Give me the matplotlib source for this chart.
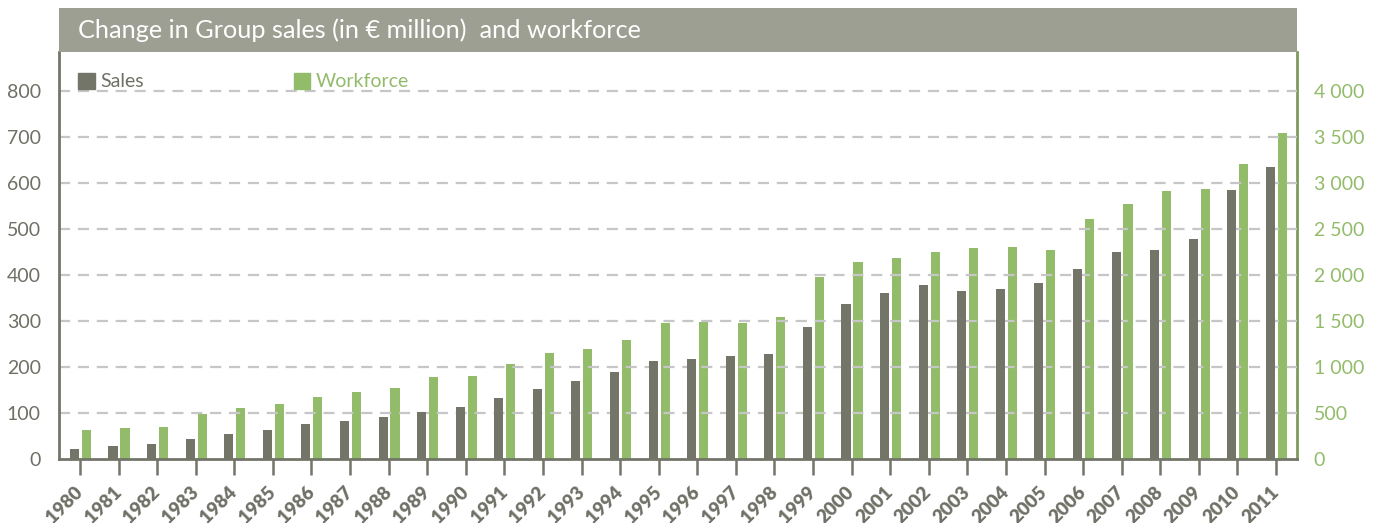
import matplotlib
matplotlib.use("Agg")
import matplotlib.pyplot as plt
from matplotlib.patches import Rectangle
import numpy as np

years = [str(y) for y in range(1980, 2012)]
sales = [22, 28, 33, 43, 54, 63, 76, 83, 91, 102, 113, 133, 152, 170, 189, 213,
         217, 224, 228, 287, 337, 361, 378, 365, 370, 383, 413, 450, 454, 478, 585, 635]
workforce = [315, 337, 348, 489, 554, 598, 674, 728, 772, 891, 902, 1033, 1152, 1196, 1293, 1478,
             1489, 1478, 1543, 1978, 2141, 2185, 2250, 2293, 2304, 2272, 2609, 2772, 2913, 2935, 3207, 3543]
left_ticks = [0, 100, 200, 300, 400, 500, 600, 700, 800]
right_ticks = [0, 500, 1000, 1500, 2000, 2500, 3000, 3500, 4000]
title = "Change in Group sales (in \u20ac million)  and workforce"
legend_labels = ["Sales", "Workforce"]

GRAY = "#737569"
GREEN = "#92bb6a"
BAND = "#9c9f91"
TXT_GRAY = "#6e7066"
SPINE_GREEN = "#7f9a5a"

W, H = 1380, 523
fig = plt.figure(figsize=(W / 100, H / 100), dpi=100)
L, R, B, T = 59 / W, 1297 / W, 1 - 459 / H, 1 - 52 / H
ax = fig.add_axes([L, B, R - L, T - B])
ax2 = ax.twinx()

x = np.arange(len(years))
bw = 0.235
ax.bar(x - 0.145, sales, width=bw, color=GRAY, zorder=3)
ax2.bar(x + 0.165, workforce, width=bw, color=GREEN, zorder=3)

ymax = (459 - 52) / 0.46
ax.set_ylim(0, ymax)
ax2.set_ylim(0, ymax * 5)
ax.set_xlim(-0.545, len(years) - 1 + 0.545)

ax.set_yticks(left_ticks)
ax.set_yticklabels([str(v) for v in left_ticks])
ax2.set_yticks(right_ticks)
ax2.set_yticklabels([f"{v:,}".replace(",", " ") for v in right_ticks])

for v in left_ticks[1:]:
    ax.axhline(v, color="#c6c6c6", lw=1.6, ls=(0, (5, 3.5)), zorder=1)

ax.set_xticks(x)
ax.set_xticklabels(years, rotation=45, ha="right", va="center", rotation_mode="anchor",
                   fontweight="heavy", fontsize=13.5, color=TXT_GRAY, family="Lato")
ax.tick_params(axis="x", direction="out", length=11.5, width=1.8, color=GRAY, pad=10)
ax.tick_params(axis="y", length=0, pad=13, labelsize=14, labelcolor=TXT_GRAY)
ax2.tick_params(axis="y", length=0, pad=12, labelsize=14, labelcolor=GREEN)
for lab in ax.get_yticklabels() + ax2.get_yticklabels():
    lab.set_family("Lato")

for a in (ax, ax2):
    a.spines["top"].set_visible(False)
ax.spines["left"].set_color(GRAY)
ax.spines["left"].set_linewidth(2)
ax.spines["bottom"].set_color(GRAY)
ax.spines["bottom"].set_linewidth(2)
ax.spines["right"].set_visible(False)
ax2.spines["left"].set_visible(False)
ax2.spines["bottom"].set_visible(False)
ax2.spines["right"].set_color(SPINE_GREEN)
ax2.spines["right"].set_linewidth(2)
ax.set_zorder(ax2.get_zorder() + 1)
ax.patch.set_visible(False)

# title band
fig.patches.append(Rectangle((L, T), R - L, (52 - 8) / H, transform=fig.transFigure,
                             facecolor=BAND, edgecolor="none"))
fig.text(78 / W, 1 - 30 / H, title, color="white", fontsize=18.2, family="Lato",
         va="center", ha="left")

# legend
handles = [Rectangle((0, 0), 1, 1, color=GRAY), Rectangle((0, 0), 1, 1, color=GREEN)]
leg = ax.legend(handles, legend_labels, loc="upper left",
                bbox_to_anchor=((78 - 59) / (1297 - 59), 1 - 21 / 407),
                ncol=2, frameon=False, handlelength=0.85, handleheight=0.85, handletextpad=0.3,
                columnspacing=7.7, prop={"family": "Lato", "size": 14},
                borderaxespad=0, borderpad=0)
for t, c in zip(leg.get_texts(), [TXT_GRAY, GREEN]):
    t.set_color(c)

fig.savefig("out.png", dpi=100)
